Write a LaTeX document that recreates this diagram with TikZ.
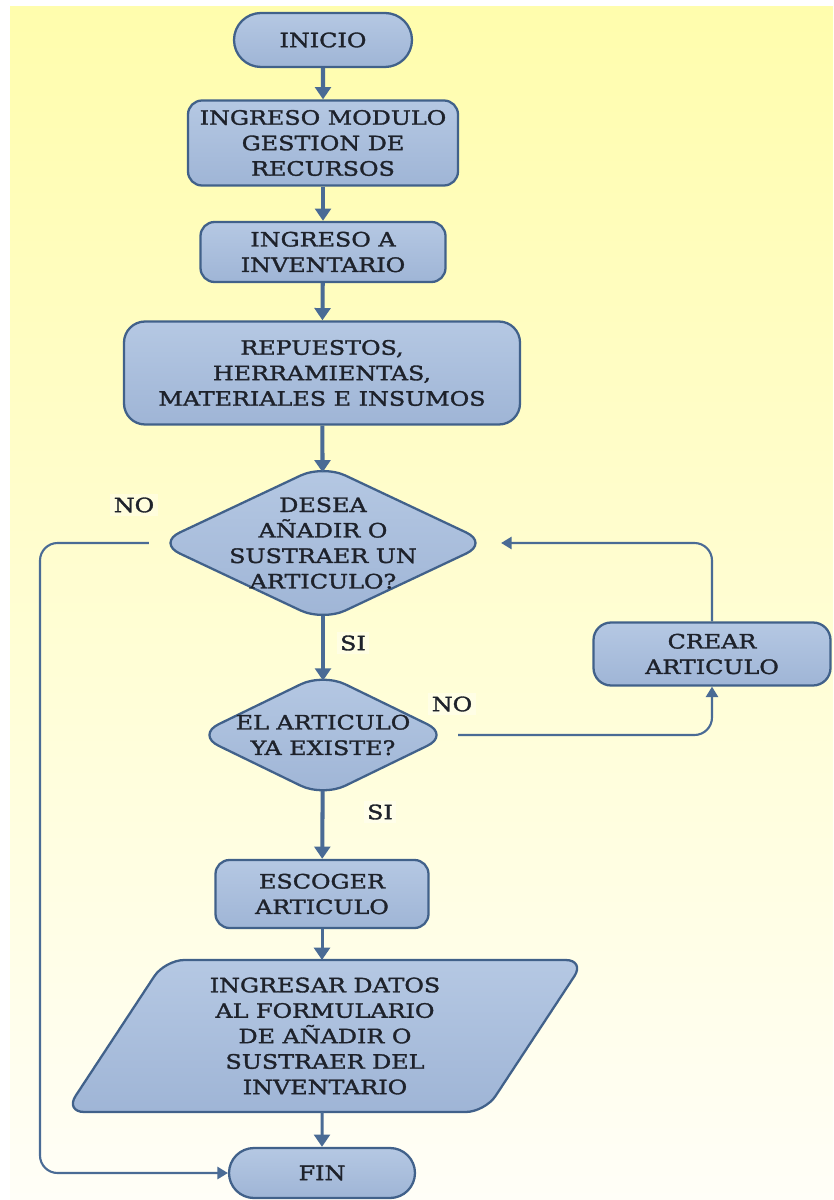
\documentclass[tikz,border=0pt]{standalone}
\usepackage{fontspec}
\setmainfont{DejaVu Serif}[FakeStretch=1.2, FakeBold=1.6]
\usetikzlibrary{shapes.geometric,shapes.misc,arrows.meta}
\definecolor{fondo}{HTML}{FFFDAD}
\definecolor{fondob}{HTML}{FFFEF7}
\definecolor{borde}{HTML}{41618A}
\definecolor{linea}{HTML}{4A6B95}
\definecolor{rellenoa}{HTML}{B5C8E3}
\definecolor{rellenom}{HTML}{CDDAEC}
\definecolor{rellenob}{HTML}{9FB5D6}
\definecolor{letra}{HTML}{1E222B}
\begin{document}
\begin{tikzpicture}[>={Triangle[length=7pt,width=9pt]},
        txt/.style={text=letra, align=center, font=\fontsize{11.3}{14.5}\selectfont},
        caja/.style={txt, draw=borde, line width=1.3pt, top color=rellenoa, middle color=rellenom, bottom color=rellenob, rounded corners=8pt, inner sep=2pt},
        term/.style={caja, shape=rounded rectangle, rounded corners=0pt},
        decision/.style={caja, shape=diamond, inner sep=0pt, rounded corners=14pt},
        etiqueta/.style={txt, fill=white, fill opacity=0.35, text opacity=1, inner sep=2pt},
        flecha/.style={->, draw=linea, line width=2.3pt},
        lazo/.style={->, draw=linea, line width=1.2pt, rounded corners=10pt, >={Triangle[length=6pt,width=7pt]}}]
        \useasboundingbox (0,0) rectangle (16.66,-24);
        \shade[top color=fondo, bottom color=fondob] (0.2,-0.14) rectangle (16.66,-24);
        % nodos
        \node[term, minimum width=3.7cm, minimum height=1.08cm] (inicio) at (6.46,-0.80) {INICIO};
        \node[caja, minimum width=5.4cm, minimum height=1.7cm] (modulo) at (6.46,-2.86) {INGRESO MODULO\\GESTION DE\\RECURSOS};
        \node[caja, minimum width=4.9cm, minimum height=1.2cm] (inventario) at (6.46,-5.04) {INGRESO A\\INVENTARIO};
        \node[caja, minimum width=7.92cm, minimum height=2.06cm, rounded corners=12pt] (repuestos) at (6.44,-7.46) {REPUESTOS,\\HERRAMIENTAS,\\MATERIALES E INSUMOS};
        \node[decision, minimum width=6.64cm, minimum height=3.14cm] (desea) at (6.46,-10.86) {};
        \node[txt] (deseatxt) at (desea) {DESEA\\AÑADIR O\\SUSTRAER UN\\ARTICULO?};
        \node[decision, minimum width=5.08cm, minimum height=2.48cm] (existe) at (6.46,-14.70) {};
        \node[txt] (existetxt) at (existe) {EL ARTICULO\\YA EXISTE?};
        \node[caja, minimum width=4.74cm, minimum height=1.26cm, rounded corners=10pt] (crear) at (14.24,-13.08) {CREAR\\ARTICULO};
        \node[caja, minimum width=4.26cm, minimum height=1.36cm] (escoger) at (6.44,-17.88) {ESCOGER\\ARTICULO};
        % paralelogramo de datos
        \coordinate (datosc) at (6.5,-20.72);
        \path[caja, shift={(datosc)}, rounded corners=11pt] (-3.2,1.52) -- (5.2,1.52) -- (3.2,-1.52) -- (-5.2,-1.52) -- cycle;
        \node[txt] (datos) at (datosc) {INGRESAR DATOS\\AL FORMULARIO\\DE AÑADIR O\\SUSTRAER DEL\\INVENTARIO};
        \coordinate (datosn) at (6.44,-19.2);
        \coordinate (datoss) at (6.44,-22.24);
        \node[term, minimum width=3.86cm, minimum height=1.0cm] (fin) at (6.44,-23.46) {FIN};
        \coordinate (izq) at (0.8,-10.86);
        % etiquetas
        \node[etiqueta] (no1) at (2.68,-10.10) {NO};
        \node[etiqueta] (si1) at (7.06,-12.86) {SI};
        \node[etiqueta] (no2) at (9.04,-14.08) {NO};
        \node[etiqueta] (si2) at (7.60,-16.24) {SI};
        % conectores
        \draw[flecha] (inicio) -- (modulo);
        \draw[flecha] (modulo) -- (inventario);
        \draw[flecha] (inventario) -- (repuestos);
        \draw[flecha, shorten >=-5pt] (repuestos) -- (desea);
        \draw[flecha, shorten <=-4pt, shorten >=-5pt] (desea) -- (existe);
        \draw[flecha, shorten <=-4pt] (existe) -- (escoger);
        \draw[flecha, line width=1.7pt] (escoger) -- (datosn);
        \draw[flecha, line width=1.7pt] (datoss) -- (fin);
        \draw[lazo, shorten <=0.14cm] (existe.east) -| (crear.south);
        \draw[lazo, shorten >=0.22cm] (crear.north) |- (desea.east);
        \draw[lazo, shorten <=0.14cm] (desea.west) -- (izq) |- (fin.west);
\end{tikzpicture}
\end{document}
